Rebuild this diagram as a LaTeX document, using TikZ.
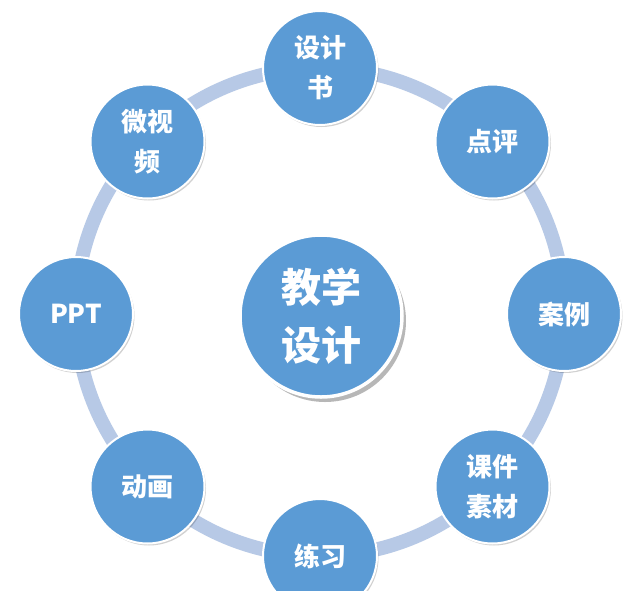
\documentclass[tikz,border=0pt]{standalone}
\usepackage{fontspec}
\newfontfamily\cjk{Noto Sans CJK SC}
\usetikzlibrary{shadows}
\definecolor{ringc}{HTML}{B7C9E6}
\definecolor{ballc}{HTML}{5B9BD5}
\tikzset{
  sat/.style={circle, fill=ballc, draw=white, line width=2pt, minimum size=114pt, inner sep=0pt,
    text=white, font=\cjk\bfseries\fontsize{26}{40}\selectfont, align=center,
    drop shadow={shadow xshift=1.5pt, shadow yshift=-2pt, opacity=0.18, fill=black}},
  hub/.style={circle, fill=ballc, draw=white, line width=3.5pt, minimum size=162pt, inner sep=0pt,
    text=white, font=\cjk\bfseries\fontsize{40}{58}\selectfont, align=center,
    drop shadow={shadow xshift=4pt, shadow yshift=-5pt, opacity=0.35, fill=black!80}},
  ring/.style={draw=ringc, line width=14pt}
}
\begin{document}
\begin{tikzpicture}[x=1pt,y=-1pt]
\useasboundingbox (0,0) rectangle (640,590);
\clip (0,0) rectangle (640,590);
\fill[white] (0,0) rectangle (640,590);
\coordinate (o) at (320,312);
\draw[ring] (o) circle (244);
\node[hub] (c) at (321,316) {教学\\设计};
\node[sat] (s1) at (320,68) {设计\\书};
\node[sat] (s2) at (492.5,141.5) {点评};
\node[sat] (s3) at (564,314) {案例};
\node[sat] (s4) at (492.5,486.5) {课件\\素材};
\node[sat] (s5) at (320,556) {练习};
\node[sat] (s6) at (147.5,486.5) {动画};
\node[sat] (s7) at (76,314) {PPT};
\node[sat] (s8) at (147.5,141.5) {微视\\频};
\end{tikzpicture}
\end{document}
